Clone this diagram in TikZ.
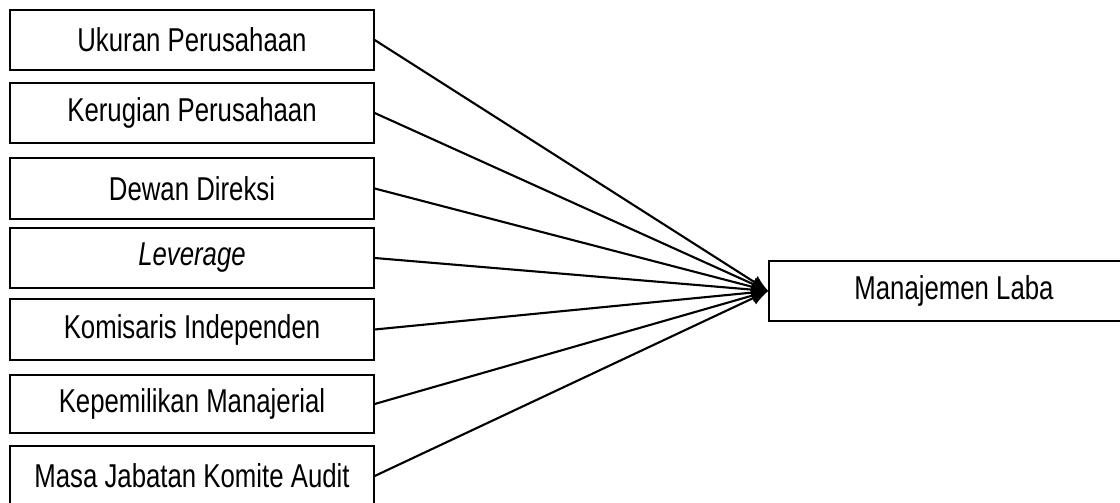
\documentclass[tikz,border=0pt]{standalone}
\usepackage{fontspec}
\setmainfont[FakeStretch=0.78]{Liberation Sans}
\usepackage{tikz}
\usetikzlibrary{positioning, arrows.meta}

\tikzset{
  varbox/.style={draw, line width=0.9pt, minimum width=9.1cm, inner sep=0pt, font=\fontsize{23.5}{26}\selectfont},
  link/.style={line width=1.5pt, -{Latex[length=12pt, width=10pt]}}
}

\begin{document}
\begin{tikzpicture}[x=0.025cm, y=-0.025cm]
    \useasboundingbox (0,0) rectangle (1120,503);

    % Dependent variable
    \node[varbox, minimum width=9.25cm, minimum height=1.5cm] (laba) at (954,291) {Manajemen Laba};

    % Independent variables
    \foreach \n/\y/\h/\t in {ukuran/40/1.5/Ukuran Perusahaan, rugi/113/1.5/Kerugian Perusahaan, direksi/188.5/1.525/Dewan Direksi, lev/258/1.5/\textit{Leverage}, komisaris/329.5/1.525/Komisaris Independen, manajerial/404/1.45/Kepemilikan Manajerial, audit/476/1.5/Masa Jabatan Komite Audit} {
      \node[varbox, minimum height=\h cm] (\n) at (192,\y) {\t};

      % Draw arrow to dependent variable
      \draw[link] (\n.east) -- (laba.west);
    }
\end{tikzpicture}
\end{document}
